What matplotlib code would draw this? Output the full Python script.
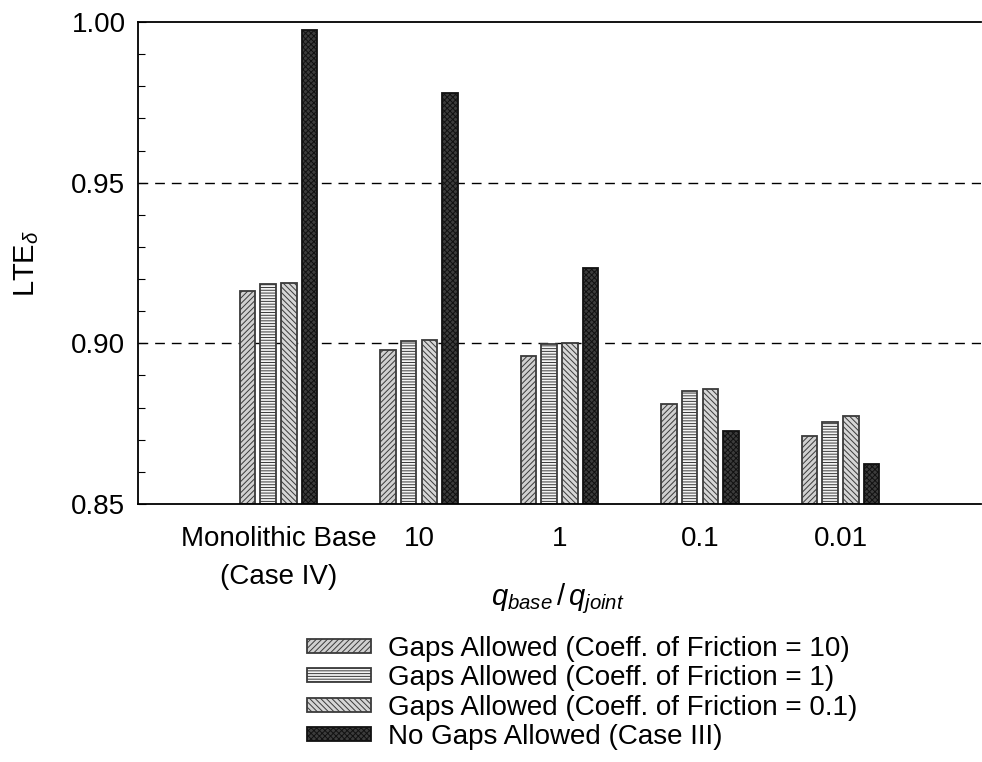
import matplotlib
matplotlib.use("Agg")
import matplotlib.pyplot as plt
import numpy as np

plt.rcParams['font.family'] = ['Liberation Sans', 'DejaVu Sans']
plt.rcParams['mathtext.fontset'] = 'custom'
plt.rcParams['mathtext.rm'] = 'Liberation Sans'
plt.rcParams['mathtext.it'] = 'Liberation Sans:italic'
plt.rcParams['mathtext.bf'] = 'Liberation Sans:bold'
plt.rcParams['hatch.linewidth'] = 0.7

categories = ["Monolithic Base\n(Case IV)", "10", "1", "0.1", "0.01"]
series_names = [
    "Gaps Allowed (Coeff. of Friction = 10)",
    "Gaps Allowed (Coeff. of Friction = 1)",
    "Gaps Allowed (Coeff. of Friction = 0.1)",
    "No Gaps Allowed (Case III)",
]
fric_10 = [0.9163, 0.8980, 0.8962, 0.8811, 0.8712]
fric_1 = [0.9185, 0.9007, 0.8998, 0.8852, 0.8755]
fric_01 = [0.9188, 0.9010, 0.9000, 0.8858, 0.8774]
no_gaps = [0.9975, 0.9780, 0.9234, 0.8727, 0.8624]
series = [fric_10, fric_1, fric_01, no_gaps]

styles = [
    dict(facecolor="#d0d0d0", hatch="//////", edgecolor="#3a3a3a"),
    dict(facecolor="#f4f4f4", hatch="------", edgecolor="#3a3a3a"),
    dict(facecolor="#d6d6d6", hatch="\\\\\\\\\\\\", edgecolor="#3a3a3a"),
    dict(facecolor="#3c3c3c", hatch="xxxxxx", edgecolor="#111111"),
]

fig = plt.figure(figsize=(9.82, 7.62), dpi=100)
ax = fig.add_axes([138/982, 1 - 504/762, (981-138)/982, (504-22)/762])

x = np.arange(len(categories))
bw = 0.11
step = 0.148
offsets = (np.arange(4) - 1.5) * step
base = 0.85
for i, vals in enumerate(series):
    v = np.array(vals)
    ax.bar(x + offsets[i], v - base, bottom=base, width=bw, linewidth=1.3,
           label=series_names[i], **styles[i])

ax.set_ylim(0.85, 1.00)
ax.set_xlim(-1.0, 5.0)
ax.set_yticks([0.85, 0.90, 0.95, 1.00])
ax.set_yticklabels(["0.85", "0.90", "0.95", "1.00"], fontsize=20)
ax.set_yticks(np.arange(0.85, 1.0001, 0.01), minor=True)
ax.tick_params(axis='y', which='both', direction='in', length=6, width=0.8, pad=9)
ax.tick_params(axis='y', which='minor', length=5)
ax.set_xticks(x)
ax.set_xticklabels(categories, fontsize=20, linespacing=1.6)
ax.tick_params(axis='x', length=0, pad=16)
for y in [0.90, 0.95]:
    ax.axhline(y, color="black", linestyle=(0, (7, 5)), linewidth=1.0, zorder=0)
ax.spines['right'].set_visible(False)
for s in ['left', 'top', 'bottom']:
    ax.spines[s].set_linewidth(1.3)

ax.set_ylabel(r"LTE$_\delta$", fontsize=21, labelpad=22)
ax.set_xlabel(r"$q_{base}\,/\,q_{joint}$", fontsize=21)
ax.xaxis.set_label_coords((558 - 138) / 843, -(581 - 504) / 482)

leg = fig.legend(loc="upper left", bbox_to_anchor=(307/982, 1 - 636/762), frameon=False,
                 fontsize=20, handlelength=2.3, handleheight=0.4, labelspacing=0.12,
                 handletextpad=0.6, borderpad=0, borderaxespad=0)

fig.savefig("out.png", dpi=100)
